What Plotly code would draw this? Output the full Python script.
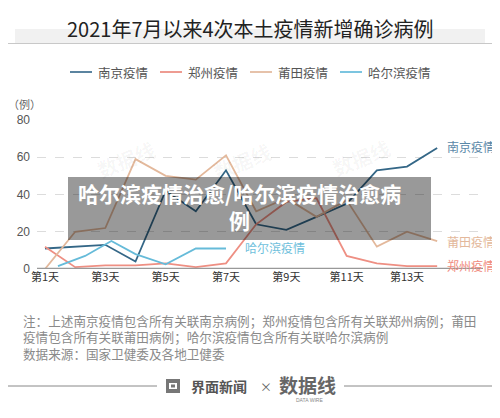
import plotly.graph_objects as go

# ---------------- data ----------------
days = list(range(1, 15))
nanjing = [11, 12, 13, 4, 42, 31, 53, 24, 21, 28, 35, 53, 55, 65]
zhengzhou = [12, 1, 2, 2, 3, 1, 3, 24, 36, 38, 7, 3, 1.5, 1.5]
putian = [0, 20, 22, 59, 50, 48, 61, 31, 38, 28, 37, 12, 20, 15]
harbin_days = [1.43, 2.33, 3.2, 4, 5, 6, 7]
harbin = [1.5, 7, 15, 8, 2.5, 11, 11]

tick_days = [1, 3, 5, 7, 9, 11, 13]
tick_labels = ["第1天", "第3天", "第5天", "第7天", "第9天", "第11天", "第13天"]
y_ticks = [0, 20, 40, 60, 80]

title_text = "2021年7月以来4次本土疫情新增确诊病例"
names = ["南京疫情", "郑州疫情", "莆田疫情", "哈尔滨疫情"]
colors = ["#346787", "#ee8f83", "#e3b89b", "#66bbd9"]
legend_colors = ["#5b84a0", "#ee9c92", "#e6c2aa", "#7cc5e0"]
label_colors = ["#5a88a8", "#f08c80", "#e3b89b", "#6fbfdc"]
note_text = ("注：上述南京疫情包含所有关联南京病例；郑州疫情包含所有关联郑州病例；莆田<br>"
             "疫情包含所有关联莆田病例；哈尔滨疫情包含所有关联哈尔滨病例<br>"
             "数据来源：国家卫健委及各地卫健委")
overlay_text = "哈尔滨疫情治愈/哈尔滨疫情治愈病<br>例"

FONT = "Liberation Sans, Noto Sans CJK SC, sans-serif"
CJK = "Noto Sans CJK SC, sans-serif"

OFF = 8  # page body margin
W, H = 500 - OFF, 418 - OFF
# plot area in page pixels
L, R, T, B = 37, 485, 120, 269


def px(x):
    return (x - L) / (R - L)


def py(y):
    return (B - y) / (B - T)


fig = go.Figure()
series = [(days, nanjing), (days, zhengzhou), (days, putian), (harbin_days, harbin)]
for (xs, ys), nm, c in zip(series, names, colors):
    fig.add_trace(go.Scatter(x=xs, y=ys, mode="lines", name=nm,
                             line=dict(color=c, width=1.8), cliponaxis=False))

day_px = (407 - 45) / 12.0
x0 = 1 - (45 - L) / day_px
x1 = 1 + (R - 45) / day_px

fig.update_layout(
    width=W, height=H,
    margin=dict(l=L - OFF, r=W - (R - OFF), t=T - OFF, b=H - (B - OFF), pad=0, autoexpand=False),
    paper_bgcolor="white", plot_bgcolor="white",
    font=dict(family=FONT, color="#555"),
    showlegend=False,
    xaxis=dict(range=[x0, x1], tickvals=tick_days, ticktext=tick_labels,
               showgrid=False, zeroline=False, showline=False, ticks="", automargin=False,
               tickfont=dict(size=11, color="#333", family=CJK), fixedrange=True),
    yaxis=dict(range=[0, 80], tickvals=y_ticks, showgrid=True, gridcolor="#dcdcdc",
               griddash="dash", gridwidth=1, zeroline=False, showline=False, ticks="",
               automargin=False,
               tickfont=dict(size=12, color="#555"), ticklabelstandoff=6, fixedrange=True),
)

shapes = []
annotations = []
# title band and rule
shapes.append(dict(type="rect", xref="paper", yref="paper", x0=px(15), x1=px(485),
                   y0=py(43), y1=py(29), fillcolor="#f1f1f1", line=dict(width=0), layer="below"))
shapes.append(dict(type="line", xref="paper", yref="paper", x0=px(OFF), x1=px(500),
                   y0=py(43.5), y1=py(43.5), line=dict(color="#c8c8c8", width=1)))
annotations.append(dict(text=title_text, xref="paper", yref="paper", x=px(250), y=py(28),
                        xanchor="center", yanchor="middle", showarrow=False,
                        font=dict(size=20, color="#222", family=CJK)))

# legend (drawn by hand)
for i, (nm, c) in enumerate(zip(names, legend_colors)):
    lx = 70 + 90 * i
    shapes.append(dict(type="line", xref="paper", yref="paper", x0=px(lx), x1=px(lx + 22),
                       y0=py(72), y1=py(72), line=dict(color=c, width=2)))
    annotations.append(dict(text=nm, xref="paper", yref="paper", x=px(lx + 26), y=py(72),
                            xanchor="left", yanchor="middle", showarrow=False,
                            font=dict(size=12.5, color="#555", family=CJK)))

# y unit
annotations.append(dict(text="（例）", xref="paper", yref="paper", x=px(6), y=py(104),
                        xanchor="left", yanchor="middle", showarrow=False,
                        font=dict(size=11, color="#666", family=CJK)))
# baseline
shapes.append(dict(type="line", xref="paper", yref="y", x0=0, x1=px(483), y0=0, y1=0,
                   line=dict(color="#999", width=2.5)))

# watermarks
for wx, wy in [(90, 132), (242, 134), (397, 130)]:
    annotations.append(dict(text="<b>数据线</b>", xref="paper", yref="paper", x=px(wx), y=py(wy),
                            showarrow=False, textangle=-22,
                            font=dict(size=20, color="rgba(0,0,0,0.04)", family=CJK)))

# end labels
end_labels = [("南京疫情", 14.27, 66, label_colors[0]),
              ("莆田疫情", 14.27, 14.5, label_colors[2]),
              ("郑州疫情", 14.27, 2, label_colors[1]),
              ("哈尔滨疫情", 7.56, 11.8, label_colors[3])]
for t, xv, yv, c in end_labels:
    annotations.append(dict(text=t, xref="x", yref="y", x=xv, y=yv, xanchor="left",
                            yanchor="middle", showarrow=False,
                            font=dict(size=12, color=c, family=CJK)))

# overlay box
shapes.append(dict(type="rect", xref="paper", yref="paper", x0=px(68), x1=px(431),
                   y0=py(240), y1=py(177), fillcolor="rgba(0,0,0,0.40)",
                   line=dict(width=0), layer="above"))
annotations.append(dict(text="<b>" + overlay_text + "</b>", xref="paper", yref="paper",
                        x=px(239), y=py(206), xanchor="center", yanchor="middle", showarrow=False,
                        align="center",
                        font=dict(size=21, color="white", family=CJK)))

# notes
annotations.append(dict(text=note_text, xref="paper", yref="paper", x=px(21), y=py(337),
                        xanchor="left", yanchor="middle", align="left", showarrow=False,
                        font=dict(size=12.6, color="#8a8a8a", family=CJK)))

# brand footer
shapes.append(dict(type="line", xref="paper", yref="paper", x0=px(OFF), x1=px(157),
                   y0=py(386), y1=py(386), line=dict(color="#888", width=1)))
shapes.append(dict(type="line", xref="paper", yref="paper", x0=px(344), x1=px(500),
                   y0=py(386), y1=py(386), line=dict(color="#888", width=1)))
shapes.append(dict(type="rect", xref="paper", yref="paper", x0=px(166), x1=px(180),
                   y0=py(393), y1=py(379), fillcolor="#777", line=dict(width=0)))
shapes.append(dict(type="rect", xref="paper", yref="paper", x0=px(169), x1=px(177),
                   y0=py(389), y1=py(383), fillcolor="white", line=dict(width=0)))
shapes.append(dict(type="rect", xref="paper", yref="paper", x0=px(171), x1=px(175),
                   y0=py(387.5), y1=py(384.5), fillcolor="#777", line=dict(width=0)))
annotations.append(dict(text="<b>界面新闻</b>", xref="paper", yref="paper", x=px(189), y=py(386),
                        xanchor="left", yanchor="middle", showarrow=False,
                        font=dict(size=14, color="#555", family=CJK)))
annotations.append(dict(text="×", xref="paper", yref="paper", x=px(266), y=py(386),
                        xanchor="center", yanchor="middle", showarrow=False,
                        font=dict(size=12, color="#666", family=CJK)))
annotations.append(dict(text="<b>数据线</b>", xref="paper", yref="paper", x=px(307), y=py(384),
                        xanchor="center", yanchor="middle", showarrow=False,
                        font=dict(size=19, color="#666", family=CJK)))
annotations.append(dict(text="DATA WIRE", xref="paper", yref="paper", x=px(309), y=py(400),
                        xanchor="center", yanchor="middle", showarrow=False,
                        font=dict(size=5, color="#888")))

fig.update_layout(shapes=shapes, annotations=annotations)
fig.write_html("out.html")
